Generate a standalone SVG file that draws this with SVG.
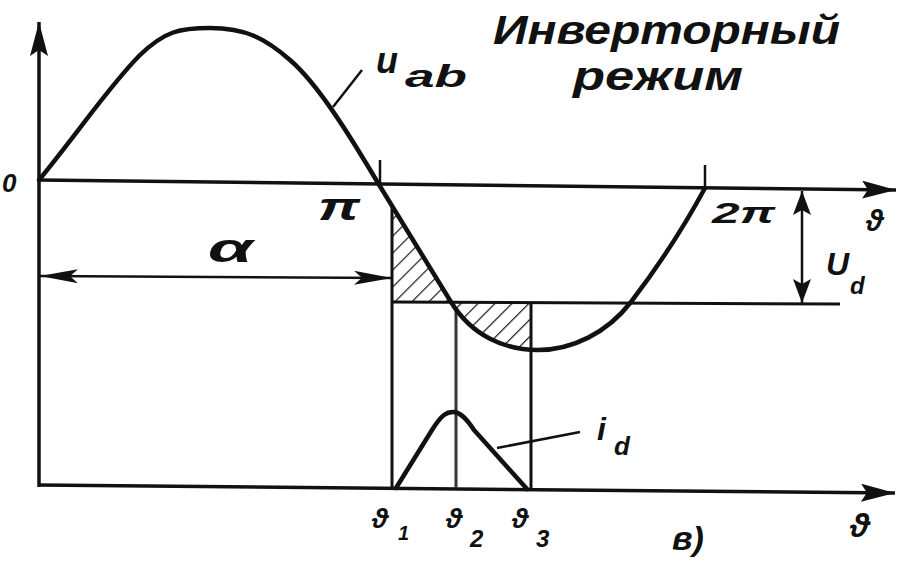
<svg xmlns="http://www.w3.org/2000/svg" width="897" height="561" viewBox="0 0 897 561">
<style>
.ax{stroke:#111;stroke-width:3.5;fill:none}
.cv{stroke:#111;stroke-width:4.5;fill:none;stroke-linejoin:round;stroke-linecap:round}
.vl{stroke:#111;stroke-width:3;fill:none}
.thin{stroke:#111;stroke-width:2.5;fill:none}
.t{font-family:"Liberation Sans","DejaVu Sans",sans-serif;font-style:italic;font-weight:bold;fill:#111}
</style>
<defs>
<marker id="axArr" markerUnits="userSpaceOnUse" markerWidth="36" markerHeight="20" refX="34" refY="9" orient="auto-start-reverse">
<path d="M0,0 L34,9 L0,18 L6,9 Z" fill="#111"/>
</marker>
<marker id="dimA" markerUnits="userSpaceOnUse" markerWidth="40" markerHeight="16" refX="38" refY="7" orient="auto-start-reverse">
<path d="M0,0 L38,7 L0,14 L8,7 Z" fill="#111"/>
</marker>
<marker id="dimU" markerUnits="userSpaceOnUse" markerWidth="26" markerHeight="20" refX="24" refY="9" orient="auto-start-reverse">
<path d="M0,0 L24,9 L0,18 L5,9 Z" fill="#111"/>
</marker>
<pattern id="hatch" patternUnits="userSpaceOnUse" width="12" height="12" patternTransform="rotate(45)">
<line x1="0" y1="0" x2="0" y2="12" stroke="#111" stroke-width="2.4"/>
</pattern>
</defs>

<g id="hatching">
<path d="M392,205.8 L451,302 L392,302 Z" fill="url(#hatch)"/>
<path d="M451,302 C470.5,333.6 500.5,347.9 531,349.8 L531,303 Z" fill="url(#hatch)"/>
</g>

<g id="connectors">
<line id="yaxis" class="ax" x1="39" y1="487" x2="39" y2="22" marker-end="url(#axArr)"/>
<line id="theta-axis" class="ax" x1="39" y1="180" x2="896" y2="190" marker-end="url(#axArr)"/>
<line id="theta-axis-low" class="ax" x1="38" y1="485" x2="895" y2="493" marker-end="url(#axArr)"/>
<line id="pi-tick" class="thin" x1="380" y1="160" x2="380" y2="184"/>
<line id="twopi-tick" class="thin" x1="705" y1="165" x2="705" y2="190"/>
<line id="ud-level" class="vl" x1="392" y1="302" x2="840" y2="304"/>
<line id="theta1" class="vl" x1="392" y1="205" x2="392" y2="488"/>
<line id="theta2" class="vl" x1="456" y1="308" x2="456" y2="488" stroke-width="4" style="stroke:#333"/>
<line id="theta3" class="vl" x1="531" y1="303" x2="531" y2="489"/>
<line id="alpha-dim" class="thin" x1="40" y1="276" x2="392" y2="278" marker-start="url(#dimA)" marker-end="url(#dimA)"/>
<line id="ud-dim" class="thin" x1="802" y1="191" x2="802" y2="303" marker-start="url(#dimU)" marker-end="url(#dimU)"/>
<line id="uab-leader" class="thin" x1="333" y1="107" x2="362" y2="70"/>
<line id="id-leader" class="thin" x1="497" y1="448" x2="580" y2="432"/>
</g>

<g id="uab-curve">
<path class="cv" d="M39,180 C80,130 110,85 140,55 C165,31 180,28 210,28 C245,28 265,38 290,60 C318,84 350,136 378,183 L451,302 C472,336 505,350 538,350 C572,350 607,333 631,302 C657,268 685,225 705,188"/>
</g>

<g id="id-curve">
<path class="cv" d="M396,488 L432,430 C442,414 447,412 453,412 C460,412 466,418 474,430 L527,489"/>
</g>

<g id="labels">
<text class="t" x="493" y="44" font-size="40" textLength="347" lengthAdjust="spacingAndGlyphs">Инверторный</text>
<text class="t" x="573" y="90" font-size="40" textLength="170" lengthAdjust="spacingAndGlyphs">режим</text>
<text class="t" x="376" y="73" font-size="36">u</text>
<text class="t" x="405" y="87" font-size="32" textLength="62" lengthAdjust="spacingAndGlyphs">ab</text>
<text class="t" x="2" y="192" font-size="26">0</text>
<text class="t" x="318" y="220" font-size="38" textLength="42" lengthAdjust="spacingAndGlyphs">π</text>
<text class="t" x="208" y="262" font-size="40" textLength="45" lengthAdjust="spacingAndGlyphs">α</text>
<text class="t" x="712" y="223" font-size="30" textLength="63" lengthAdjust="spacingAndGlyphs">2π</text>
<text class="t" x="866" y="231" font-size="30">ϑ</text>
<text class="t" x="826" y="275" font-size="32">U</text>
<text class="t" x="850" y="294" font-size="24">d</text>
<text class="t" x="597" y="440" font-size="32">i</text>
<text class="t" x="614" y="455" font-size="26">d</text>
<text class="t" x="372" y="528" font-size="28">ϑ</text>
<text class="t" x="398" y="540" font-size="20">1</text>
<text class="t" x="446" y="528" font-size="28">ϑ</text>
<text class="t" x="470" y="547" font-size="24">2</text>
<text class="t" x="512" y="528" font-size="28">ϑ</text>
<text class="t" x="536" y="547" font-size="24">3</text>
<text class="t" x="672" y="550" font-size="34">в)</text>
<text class="t" x="850" y="537" font-size="34">ϑ</text>
</g>
</svg>
